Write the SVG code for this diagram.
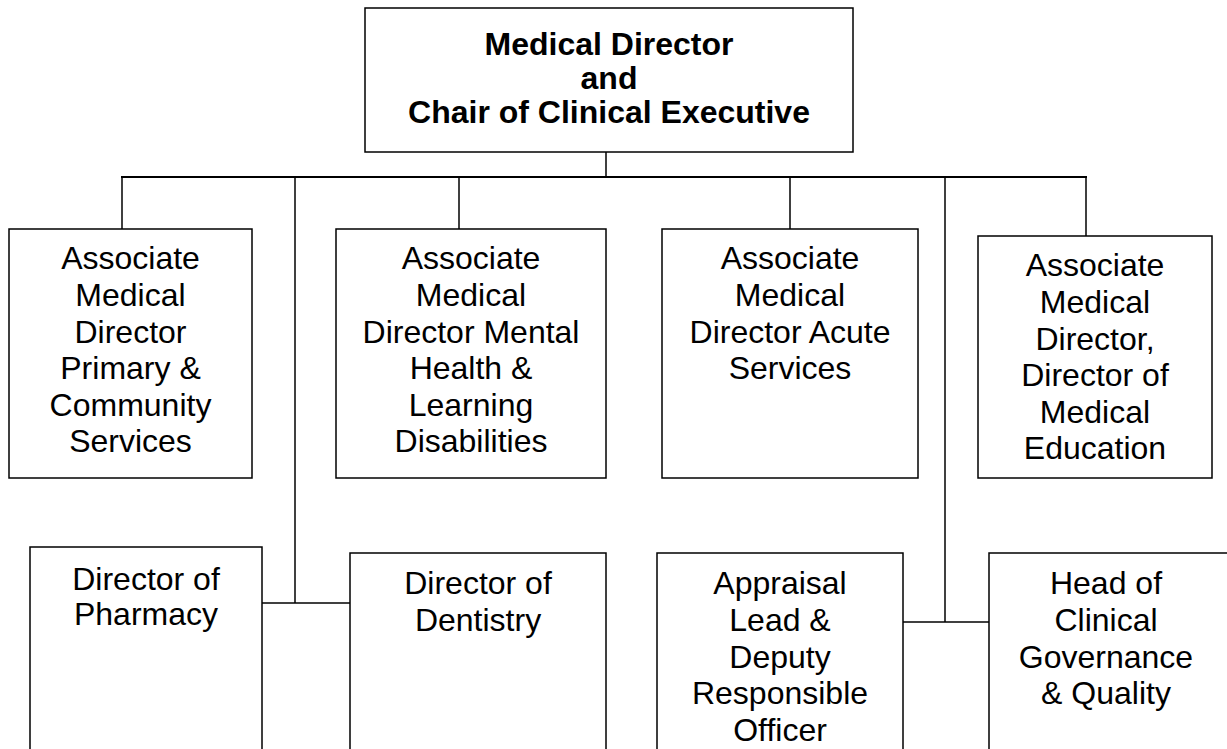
<svg xmlns="http://www.w3.org/2000/svg" width="1227" height="749" viewBox="0 0 1227 749">
  <style>
    .box { fill: #ffffff; stroke: #000000; stroke-width: 1.5; }
    .lbl { font-family: "Liberation Sans", Arial, sans-serif; font-size: 32px; fill: #000000; text-anchor: middle; }
    .head { font-weight: bold; }
    .wire { fill: none; stroke: #000000; stroke-width: 1.5; }
    .bus { fill: none; stroke: #000000; stroke-width: 2; }
  </style>
  <rect width="1227" height="749" fill="#ffffff"/>

  <!-- reporting lines -->
  <g id="connectors">
    <line class="wire" x1="606" y1="152" x2="606" y2="177"/>
    <line class="bus" x1="121" y1="177" x2="1087" y2="177"/>
    <line class="wire" x1="122" y1="177" x2="122" y2="229"/>
    <line class="wire" x1="459" y1="177" x2="459" y2="229"/>
    <line class="wire" x1="790" y1="177" x2="790" y2="229"/>
    <line class="wire" x1="1086" y1="177" x2="1086" y2="236"/>
    <!-- pharmacy / dentistry branch -->
    <line class="wire" x1="295" y1="177" x2="295" y2="603"/>
    <line class="wire" x1="262" y1="603" x2="350" y2="603"/>
    <!-- appraisal / governance branch -->
    <line class="wire" x1="945" y1="177" x2="945" y2="622"/>
    <line class="wire" x1="903" y1="622" x2="989" y2="622"/>
  </g>

  <g id="medical-director">
    <rect class="box" x="365" y="8" width="488" height="144"/>
    <text class="lbl head" x="609" y="55">Medical Director</text>
    <text class="lbl head" x="609" y="89">and</text>
    <text class="lbl head" x="609" y="123">Chair of Clinical Executive</text>
  </g>

  <g id="amd-primary-community">
    <rect class="box" x="9" y="229" width="243" height="249"/>
    <text class="lbl" x="130.5" y="269">Associate</text>
    <text class="lbl" x="130.5" y="306">Medical</text>
    <text class="lbl" x="130.5" y="343">Director</text>
    <text class="lbl" x="130.5" y="379">Primary &amp;</text>
    <text class="lbl" x="130.5" y="416">Community</text>
    <text class="lbl" x="130.5" y="452">Services</text>
  </g>

  <g id="amd-mental-health">
    <rect class="box" x="336" y="229" width="270" height="249"/>
    <text class="lbl" x="471" y="269">Associate</text>
    <text class="lbl" x="471" y="306">Medical</text>
    <text class="lbl" x="471" y="343">Director Mental</text>
    <text class="lbl" x="471" y="379">Health &amp;</text>
    <text class="lbl" x="471" y="416">Learning</text>
    <text class="lbl" x="471" y="452">Disabilities</text>
  </g>

  <g id="amd-acute">
    <rect class="box" x="662" y="229" width="256" height="249"/>
    <text class="lbl" x="790" y="269">Associate</text>
    <text class="lbl" x="790" y="306">Medical</text>
    <text class="lbl" x="790" y="343">Director Acute</text>
    <text class="lbl" x="790" y="379">Services</text>
  </g>

  <g id="amd-medical-education">
    <rect class="box" x="978" y="236" width="234" height="242"/>
    <text class="lbl" x="1095" y="276">Associate</text>
    <text class="lbl" x="1095" y="313">Medical</text>
    <text class="lbl" x="1095" y="350">Director,</text>
    <text class="lbl" x="1095" y="386">Director of</text>
    <text class="lbl" x="1095" y="423">Medical</text>
    <text class="lbl" x="1095" y="459">Education</text>
  </g>

  <g id="director-pharmacy">
    <rect class="box" x="30" y="547" width="232" height="210"/>
    <text class="lbl" x="146" y="590">Director of</text>
    <text class="lbl" x="146" y="625">Pharmacy</text>
  </g>

  <g id="director-dentistry">
    <rect class="box" x="350" y="553" width="256" height="204"/>
    <text class="lbl" x="478" y="594">Director of</text>
    <text class="lbl" x="478" y="631">Dentistry</text>
  </g>

  <g id="appraisal-lead">
    <rect class="box" x="657" y="553" width="246" height="204"/>
    <text class="lbl" x="780" y="594">Appraisal</text>
    <text class="lbl" x="780" y="631">Lead &amp;</text>
    <text class="lbl" x="780" y="668">Deputy</text>
    <text class="lbl" x="780" y="704">Responsible</text>
    <text class="lbl" x="780" y="741">Officer</text>
  </g>

  <g id="head-clinical-governance">
    <rect class="box" x="989" y="553" width="240" height="204"/>
    <text class="lbl" x="1106" y="594">Head of</text>
    <text class="lbl" x="1106" y="631">Clinical</text>
    <text class="lbl" x="1106" y="668">Governance</text>
    <text class="lbl" x="1106" y="704">&amp; Quality</text>
  </g>
</svg>
